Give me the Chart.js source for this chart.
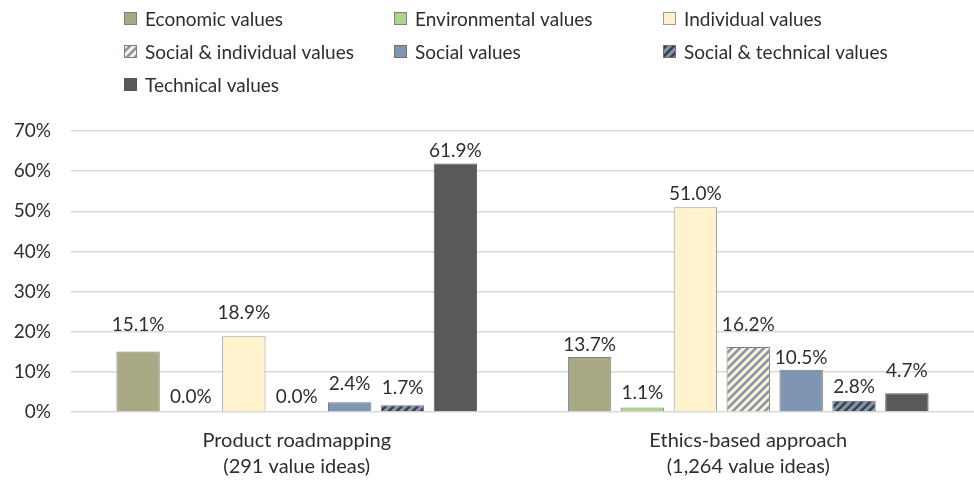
<!DOCTYPE html>
<html>
<head>
<meta charset="utf-8">
<script src="https://cdn.jsdelivr.net/npm/chart.js@4"></script>
<style>
  html, body { margin: 0; padding: 0; background: #fff; }
  #wrap { width: 974px; height: 480px; }
</style>
</head>
<body>
<div id="wrap"><canvas id="myChart"></canvas></div>
<script>
// categories (x axis)
const categories = [
  ['Product roadmapping', '(291 value ideas)'],
  ['Ethics-based approach', '(1,264 value ideas)']
];
// series names
const seriesNames = [
  'Economic values',
  'Environmental values',
  'Individual values',
  'Social & individual values',
  'Social values',
  'Social & technical values',
  'Technical values'
];
// series values in % (roadmapping, ethics)
const economic = [15.1, 13.7];
const environmental = [0.0, 1.1];
const individual = [18.9, 51.0];
const socialIndividual = [0.0, 16.2];
const social = [2.4, 10.5];
const socialTechnical = [1.7, 2.8];
const technical = [61.9, 4.7];
// y ticks
const yTicks = [0, 10, 20, 30, 40, 50, 60, 70];

const FONT = 'Lato, "Open Sans", sans-serif';
const TEXT = '#2e2e2e';

// gap (px) between each value label and its bar, as placed in the original
const labelGap = [[20, 6], [9, 9], [17, 7], [9, 16], [12, 6], [11, 8], [7, 16]];

// striped fill (diagonal "/" lines)
function stripes(bg, fg) {
  const c = document.createElement('canvas');
  c.width = 8; c.height = 8;
  const x = c.getContext('2d');
  x.fillStyle = bg;
  x.fillRect(0, 0, 8, 8);
  x.strokeStyle = fg;
  x.lineWidth = 2.6;
  x.beginPath();
  x.moveTo(-2, 10); x.lineTo(10, -2);
  x.moveTo(-6, 6); x.lineTo(6, -6);
  x.moveTo(2, 14); x.lineTo(14, 2);
  x.stroke();
  return x.createPattern(c, 'repeat');
}

const ctx = document.getElementById('myChart').getContext('2d');

const fills = [
  '#A9AA85',
  '#A8D68A',
  '#FFF2CC',
  stripes('#FFF2CC', '#7F96B3'),
  '#7F96B3',
  stripes('#7F96B3', '#404040'),
  '#595959'
];
const borders = ['#808080', '#808080', '#9A9A9A', '#808080', '#707070', '#707070', '#555555'];
const values = [economic, environmental, individual, socialIndividual, social, socialTechnical, technical];

const datasets = seriesNames.map(function (name, i) {
  return {
    label: name,
    data: values[i],
    backgroundColor: fills[i],
    borderColor: borders[i],
    borderWidth: 1,
    categoryPercentage: 0.82,
    barPercentage: 0.82
  };
});

// value labels above bars
const valueLabels = {
  id: 'valueLabels',
  afterDatasetsDraw(chart) {
    const c = chart.ctx;
    c.save();
    c.font = '19px ' + FONT;
    c.fillStyle = TEXT;
    c.textAlign = 'center';
    c.textBaseline = 'alphabetic';
    chart.data.datasets.forEach(function (ds, i) {
      chart.getDatasetMeta(i).data.forEach(function (bar, j) {
        c.fillText(ds.data[j].toFixed(1) + '%', bar.x, bar.y - labelGap[i][j]);
      });
    });
    c.restore();
  }
};

// legend drawn in a 3 column grid
const gridLegend = {
  id: 'gridLegend',
  afterDraw(chart) {
    const c = chart.ctx;
    const cols = [124, 394, 663];
    const rows = [19, 52, 85];
    c.save();
    c.font = '19px ' + FONT;
    c.textBaseline = 'middle';
    chart.data.datasets.forEach(function (ds, i) {
      const x = cols[i % 3];
      const y = rows[Math.floor(i / 3)];
      c.fillStyle = ds.backgroundColor;
      c.fillRect(x, y - 7, 13, 13);
      c.strokeStyle = ds.borderColor;
      c.lineWidth = 1;
      c.strokeRect(x + 0.5, y - 6.5, 12, 12);
      c.fillStyle = TEXT;
      c.textAlign = 'left';
      c.fillText(ds.label, x + 21, y + 1);
    });
    c.restore();
  }
};

new Chart(ctx, {
  type: 'bar',
  data: { labels: categories, datasets: datasets },
  options: {
    responsive: true,
    maintainAspectRatio: false,
    animation: false,
    layout: { padding: { top: 131, right: 0, left: 0, bottom: 0 } },
    plugins: {
      legend: { display: false },
      tooltip: { enabled: false }
    },
    scales: {
      x: {
        afterFit(scale) { scale.height = 68; },
        grid: { display: false },
        border: { display: false },
        ticks: {
          color: TEXT,
          font: { family: FONT, size: 20, lineHeight: 1.3 },
          padding: 8,
          maxRotation: 0
        }
      },
      y: {
        min: yTicks[0],
        max: yTicks[yTicks.length - 1],
        afterFit(scale) { scale.width = 71; },
        afterBuildTicks(scale) { scale.ticks = yTicks.map(function (v) { return { value: v }; }); },
        grid: { color: '#D9D9D9', lineWidth: 1.5, drawTicks: false },
        border: { display: false },
        ticks: {
          color: TEXT,
          font: { family: FONT, size: 19 },
          padding: 20,
          callback: function (v) { return v + '%'; }
        }
      }
    }
  },
  plugins: [valueLabels, gridLegend]
});
</script>
</body>
</html>
